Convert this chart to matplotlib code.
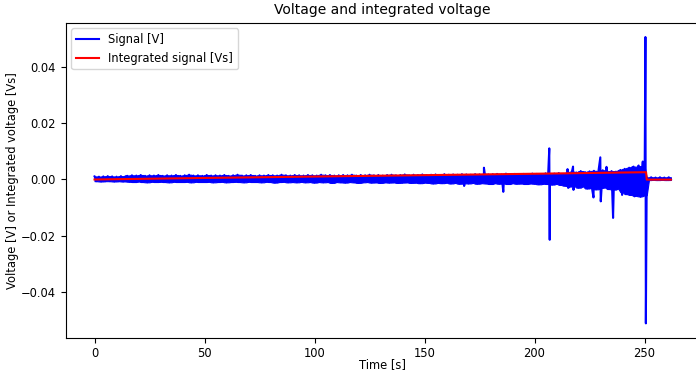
import matplotlib
matplotlib.use("agg")

import matplotlib.pyplot as plt
import numpy as np


# Signal band, one reading per second (t = 0 .. 262 s), in mV.
band_mv = [
    1.1, -0.6, 1.0, -0.7, 1.1, -0.6, 1.2, -0.6, 1.1, -0.7, 1.0, -0.6, 1.2, -0.7, 1.1,
    1.3, -0.8, 1.5, -0.9, 1.4, -0.7, 1.6, -0.9, 1.3, -1.0, 1.5, -0.8, 1.4, -0.9, 1.6, -0.8, 1.3, -0.9, 1.5, -1.0,
    1.4, -0.8, 1.6, -0.9, 1.3, -0.9, 1.5, -0.8, 1.7, -1.0, 1.4, -0.8, 1.5, -0.9, 1.3, -0.9, 1.6, -0.8, 1.4, -1.0,
    1.5, -0.9, 1.4, -0.8, 1.6, -1.0, 1.3, -0.9, 1.5, -0.8, 1.7, -0.9, 1.4, -1.0, 1.5, -0.8, 1.6, -0.9, 1.3, -0.9,
    1.5, -1.0, 1.4, -0.8, 1.6, -0.9, 1.5, -1.1, 1.4, -0.9, 1.7, -0.8, 1.5, -1.0, 1.4, -0.9, 1.6, -1.0, 1.5, -0.8,
    1.4, -1.0, 1.6, -0.9, 1.5, -1.1, 1.4, -0.9, 1.7, -1.0, 1.5, -0.9, 1.6, -1.2, 1.4, -0.9, 1.5, -1.0, 1.6, -1.1,
    1.5, -0.9, 1.7, -1.0, 1.4, -1.2, 1.6, -1.0, 1.5, -0.9, 1.7, -1.1, 1.5, -1.0, 1.6, -1.2, 1.4, -1.0, 1.6, -1.1,
    1.7, -1.0, 1.5, -1.2, 1.6, -1.1, 1.8, -1.0, 1.5, -1.2, 1.7, -1.1, 1.6, -1.3, 1.8, -1.1, 1.6, -1.2, 1.7, -1.4,
    1.8, -1.2, 1.6, -1.3, 1.9, -1.1, 1.7, -1.4, 1.8, -1.2, 1.7, -1.5, 1.9, -1.3, 1.8, -1.4, 1.7, -1.2, 1.9, -1.5,
    1.8, -1.3, 2.0, -1.4, 1.8, -1.6, 1.9, -1.3, 2.0, -1.5, 1.8, -1.4, 2.1, -1.6, 1.9, -1.3, 2.0, -1.5, 1.9, -1.4,
    2.0, -1.6, 1.9, -1.4, 2.1, -1.5, 2.0, -1.7, 1.9, -1.5, 2.2, -1.6, 2.0, -1.8, 2.1, -1.5, 2.3, -1.9, 2.0, -2.2,
    2.4, -2.5, 2.8, -2.2, 2.5, -2.9, 3.0, -2.4, 2.6, -3.2, 2.9, -2.6, 3.1, -3.5, 2.7, -3.0, 3.3, -2.8, 2.9, -3.4,
    3.0, -3.6, 2.8, -3.2, 3.4, -4.5, 3.8, -5.2, 4.2, -5.5, 4.6, -5.8, 4.4, -6.0, 4.8, -5.6,
    0.7, -0.2, 0.8, -0.1, 0.7, -0.2, 0.8, -0.1, 0.7, -0.2, 0.8, -0.1,
]
band_t = np.arange(len(band_mv))

# Spikes (time in s, value in mV).
spike_t = [168.0, 177.0, 185.8, 206.7, 206.9, 215.0, 215.3, 217.5, 217.7,
           226.8, 229.9, 230.1, 232.7, 235.7, 239.8, 244.3, 245.4, 247.3,
           248.2, 249.2, 250.4, 250.6]
spike_mv = [-2.3, 4.2, -4.4, 11.1, -21.5, 3.7, -3.0, 4.6, -3.7,
            -6.4, 7.9, -7.8, 4.5, -13.7, -5.5, 4.0, -6.0, 5.0,
            -6.2, 6.4, 50.8, -51.3]

# Integrated signal (time in s, value in mVs).
integ_t = [0, 50, 100, 150, 200, 250.7, 251.0, 262]
integ_mv = [0.0, 0.55, 1.05, 1.55, 2.05, 2.6, -0.05, -0.05]

plt.rcParams["font.size"] = 8.3

# Merge band and spikes into one time-ordered signal.
sig_t = np.concatenate([band_t, spike_t])
sig_v = np.concatenate([band_mv, spike_mv]) * 1e-3
order = np.argsort(sig_t, kind="stable")
sig_t, sig_v = sig_t[order], sig_v[order]

# Envelope of the dense band (the raw trace is far denser than one point per second).
band = np.array(band_mv) * 1e-3
padded = np.concatenate([band[:1], band, band[-1:]])
band_hi = np.max([padded[:-2], padded[1:-1], padded[2:]], axis=0)
band_lo = np.min([padded[:-2], padded[1:-1], padded[2:]], axis=0)

fig = plt.figure(figsize=(6.96, 3.71), dpi=100)
ax = fig.add_axes([0.0944, 0.0898, 0.911, 0.849])
ax.fill_between(band_t, band_lo, band_hi, color="blue", linewidth=0.8)
ax.plot(sig_t, sig_v, color="blue", label="Signal [V]")
ax.plot(integ_t, np.array(integ_mv) * 1e-3, color="red",
        label="Integrated signal [Vs]")
ax.set_xlim(-13.1, 275.1)
ax.set_ylim(-0.0564, 0.0559)
ax.set_xlabel("Time [s]", labelpad=-2)
ax.set_ylabel("Voltage [V] or Integrated voltage [Vs]", labelpad=1)
ax.set_title("Voltage and integrated voltage", fontsize=10)
ax.legend(loc="upper left")
fig.savefig("out.png")
